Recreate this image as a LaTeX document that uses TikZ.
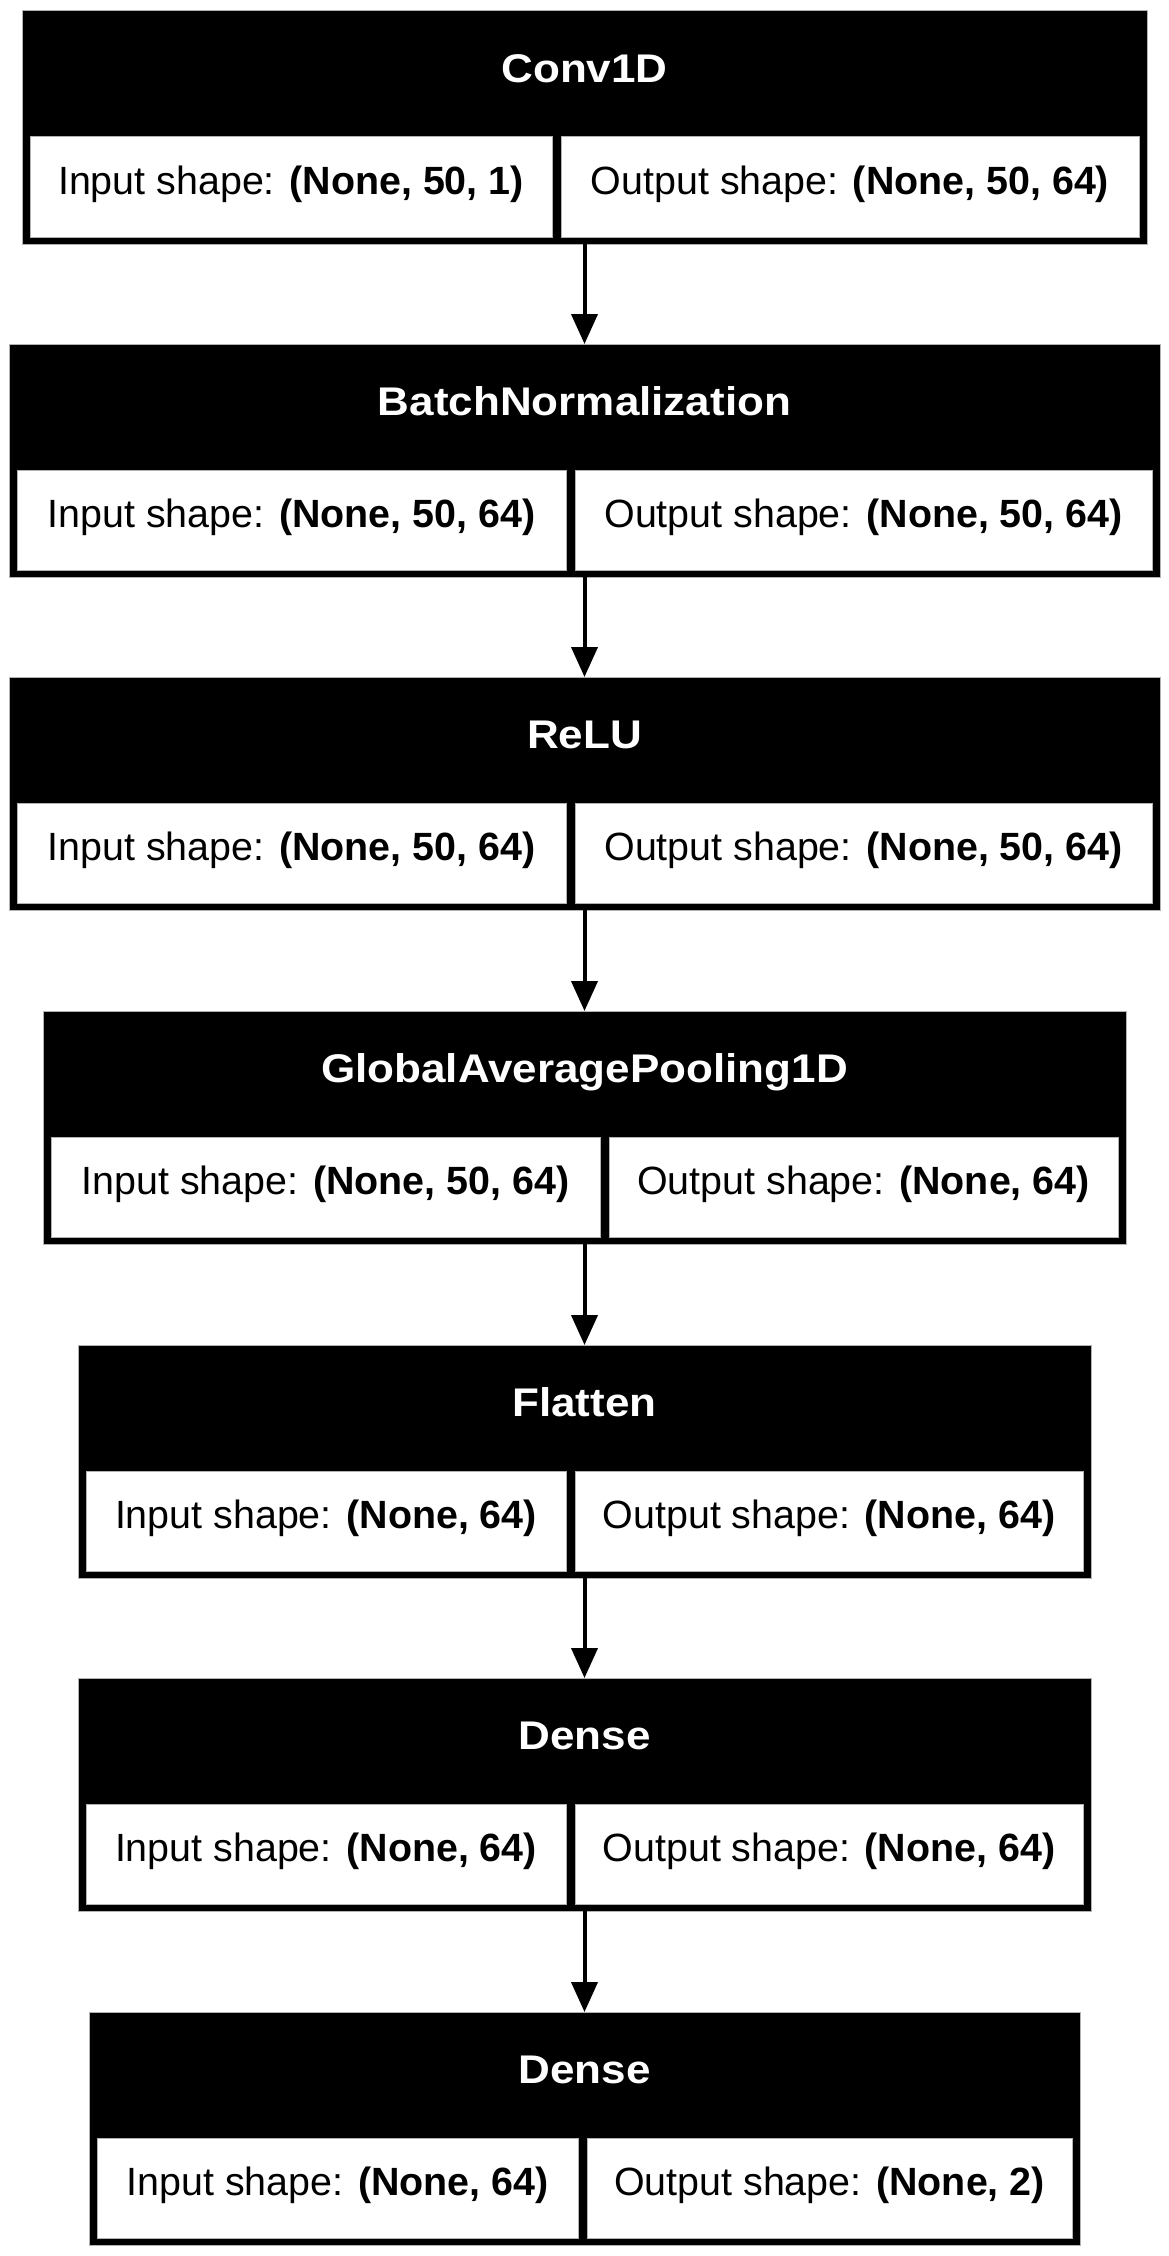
\documentclass[tikz,border=0pt]{standalone}
\usepackage{fontspec}
\setmainfont{Liberation Sans}
\newfontfamily\hdrfont[FakeStretch=1.1]{Liberation Sans}
\usetikzlibrary{arrows.meta,positioning}

\tikzset{
	blockbox/.style={fill=black, draw=gray!60, line width=1pt, minimum height=233pt, inner sep=0pt, outer sep=0pt},
	titletext/.style={text=white, font=\hdrfont\fontsize{40}{48}\selectfont\bfseries, minimum height=126pt, text height=29pt, text depth=12pt, inner sep=0pt},
	cellbox/.style={fill=white, draw=gray!60, line width=1pt, minimum height=100pt, inner sep=0pt, outer sep=0pt, text height=25pt, text depth=10pt, font=\fontsize{39.4}{47}\selectfont},
	flow/.style={-{Triangle[width=26pt,length=30pt]}, line width=4pt}
}

% name, top, left edge, divider left, title, input, output
\newcommand{\layerbox}[7]{%
	\pgfmathsetmacro\bw{1169-2*#3}%
	\pgfmathsetmacro\iw{#4-#3-8}%
	\pgfmathsetmacro\ow{1169-#3-8-#4-9}%
	\node[blockbox, minimum width=\bw pt] (#1) at (584.5,#2+116.5) {};
	\node[titletext] (#1-t) at (584.5,#2+63) {#5};
	\node[cellbox, minimum width=\iw pt, anchor=north west] (#1-in) at (#3+8,#2+126) {Input shape: \textbf{#6}};
	\node[cellbox, minimum width=\ow pt, anchor=north west] (#1-out) at (#4+9,#2+126) {Output shape: \textbf{#7}};
}

\begin{document}
\begin{tikzpicture}[x=1pt,y=-1pt]
	\useasboundingbox (0,0) rectangle (1169,2256);

	\layerbox{conv}{11}{22}{552}{Conv1D}{(None, 50, 1)}{(None, 50, 64)}
	\layerbox{bn}{344}{9}{566}{BatchNormalization}{(None, 50, 64)}{(None, 50, 64)}
	\layerbox{relu}{677}{9}{566}{ReLU}{(None, 50, 64)}{(None, 50, 64)}
	\layerbox{gap}{1011}{43}{600}{GlobalAveragePooling1D}{(None, 50, 64)}{(None, 64)}
	\layerbox{flat}{1345}{78}{566}{Flatten}{(None, 64)}{(None, 64)}
	\layerbox{dense}{1678}{78}{566}{Dense}{(None, 64)}{(None, 64)}
	\layerbox{out}{2012}{89}{578}{Dense}{(None, 64)}{(None, 2)}

	\foreach \a/\b in {conv/bn,bn/relu,relu/gap,gap/flat,flat/dense,dense/out}
	\draw[flow] (\a.south) -- (\b.north);
\end{tikzpicture}
\end{document}
